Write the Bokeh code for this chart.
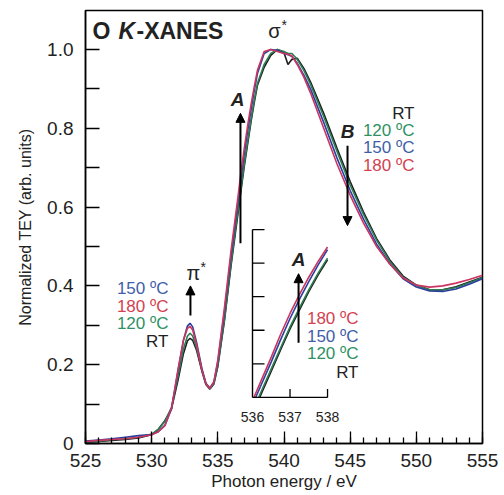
import numpy as np
from bokeh.plotting import figure
from bokeh.models import Range1d, FixedTicker, Label, Arrow, NormalHead
from bokeh.core.properties import value
from bokeh.embed import file_html
from bokeh.resources import INLINE

# ---------------- data ----------------
energy = [525, 526, 527, 528, 529, 530, 530.5, 531, 531.5, 532,
          532.4, 532.7, 532.9, 533.1, 533.4, 533.8, 534.1, 534.4, 534.7, 535,
          535.5, 536, 536.25, 536.5, 536.75, 537, 537.25, 537.5, 537.75, 538,
          538.5, 539, 539.5, 540, 540.3, 540.6, 541, 541.5, 542, 543,
          544, 545, 546, 547, 548, 549, 550, 551, 552, 553,
          554, 555]

tey_rt = [.003, .005, .008, .010, .014, .022, .036, .058, .088, .162,
          .228, .260, .267, .262, .236, .183, .150, .138, .151, .196,
          .312, .452, .515, .578, .642, .704, .760, .815, .865, .910,
          .955, .985, 1.000, .992, .962, .975, .978, .952, .918, .838,
          .750, .665, .588, .520, .466, .425, .402, .390, .390, .398,
          .410, .422]
tey_120 = [.004, .006, .010, .012, .016, .024, .036, .056, .092, .172,
           .240, .272, .280, .273, .242, .186, .151, .139, .152, .198,
           .315, .458, .522, .585, .648, .710, .766, .820, .870, .915,
           .962, .990, 1.000, .995, .990, .990, .975, .947, .912, .830,
           .742, .656, .582, .516, .462, .422, .401, .390, .390, .396,
           .408, .421]
tey_150 = [.006, .009, .012, .016, .020, .023, .030, .046, .088, .186,
           .262, .298, .305, .296, .256, .190, .153, .141, .156, .208,
           .335, .478, .542, .606, .672, .735, .792, .845, .895, .940,
           .990, 1.000, .998, .990, .987, .982, .965, .935, .900, .815,
           .725, .642, .570, .506, .456, .418, .397, .387, .386, .392,
           .404, .418]
tey_180 = [.005, .008, .010, .012, .016, .022, .030, .045, .090, .190,
           .262, .292, .297, .288, .250, .186, .152, .140, .156, .212,
           .345, .490, .555, .620, .688, .750, .806, .858, .905, .948,
           .995, 1.000, .995, .990, .988, .984, .962, .930, .890, .800,
           .710, .630, .560, .500, .455, .420, .402, .397, .400, .407,
           .416, .427]

series_labels = ["RT", "120 \u00baC", "150 \u00baC", "180 \u00baC"]
line_colors = ["#1e1e1e", "#2e7d52", "#2c3f9e", "#cc3560"]
text_colors = ["#222222", "#2f9163", "#3f5ea8", "#d4414f"]

x_major = [525, 530, 535, 540, 545, 550, 555]
x_minor = list(range(525, 556))
y_major = [0, 0.2, 0.4, 0.6, 0.8, 1.0]
y_minor = [0.1, 0.3, 0.5, 0.7, 0.9]
y_labels = ["0", "0.2", "0.4", "0.6", "0.8", "1.0"]

inset_x_ticks = [536, 537, 538]
inset_y_ticks = [0.6, 0.7, 0.8, 0.9, 1.0]

FONT = "Liberation Sans"

# ---------------- figure ----------------
p = figure(frame_width=397, frame_height=433,
           min_border_left=85, min_border_top=10, min_border_right=20, min_border_bottom=42,
           x_range=Range1d(525, 555), y_range=Range1d(0, 1.099),
           output_backend="svg", toolbar_location=None)
p.background_fill_color = "white"
p.border_fill_color = "white"
p.xgrid.visible = False
p.ygrid.visible = False
p.outline_line_color = "black"
p.outline_line_width = 1.5

p.xaxis.ticker = FixedTicker(ticks=x_major, minor_ticks=x_minor)
p.yaxis.ticker = FixedTicker(ticks=y_major, minor_ticks=y_minor)
p.yaxis.major_label_overrides = {v: s for v, s in zip(y_major, y_labels)}

for ax in (p.xaxis[0], p.yaxis[0]):
    ax.axis_line_color = "black"
    ax.axis_line_width = 1.5
    ax.major_tick_line_color = "black"
    ax.minor_tick_line_color = "black"
    ax.major_tick_line_width = 1.3
    ax.minor_tick_line_width = 1.3
    ax.major_tick_out = 0
    ax.minor_tick_out = 0
    ax.major_label_text_font = FONT
    ax.major_label_text_font_size = "19px"
    ax.major_label_text_color = "#222222"
    ax.axis_label_text_font = FONT
    ax.axis_label_text_font_style = "normal"
    ax.axis_label_text_color = "#222222"

p.xaxis.major_tick_in = 12
p.xaxis.minor_tick_in = 6
p.yaxis.major_tick_in = 14
p.yaxis.minor_tick_in = 14
p.xaxis.major_label_standoff = 10
p.yaxis.major_label_standoff = 12
p.xaxis.axis_label = "Photon energy / eV"
p.yaxis.axis_label = "Normalized TEY (arb. units)"
p.xaxis.axis_label_text_font_size = "17px"
p.yaxis.axis_label_text_font_size = "16px"
p.xaxis.axis_label_standoff = 2
p.yaxis.axis_label_standoff = 10

series = [tey_rt, tey_120, tey_150, tey_180]
for ys, c in zip(series, line_colors):
    p.line(energy, ys, line_color=c, line_width=1.6)

# ---------------- inset ----------------
inset = p.subplot(x_source=Range1d(536, 538), y_source=Range1d(0.5, 1.0),
                  x_target=Range1d(537.62, 543.29), y_target=Range1d(0.117, 0.543))
e_arr = np.array(energy)
mask = (e_arr >= 536) & (e_arr <= 538)
for ys, c in zip(series, line_colors):
    inset.line(e_arr[mask], np.array(ys)[mask], line_color=c, line_width=1.6)
# hide the part of the inset traces that falls below the inset's x axis
inset.quad(left=535.9, right=538.1, bottom=0.40, top=0.5, fill_color="white", line_color=None)
# inset axes
inset.line([536, 536], [0.5, 1.0], line_color="black", line_width=1.4)
inset.line([536, 538], [0.5, 0.5], line_color="black", line_width=1.4)
inset.segment(x0=[536] * len(inset_y_ticks), y0=inset_y_ticks,
              x1=[536.32] * len(inset_y_ticks), y1=inset_y_ticks,
              line_color="black", line_width=1.3)
inset.segment(x0=inset_x_ticks[1:], y0=[0.5] * 2, x1=inset_x_ticks[1:], y1=[0.525] * 2,
              line_color="black", line_width=1.3)
inset.text(x=inset_x_ticks, y=[0.5] * 3, text=[str(t) for t in inset_x_ticks],
           y_offset=20, text_align="center", text_baseline="middle",
           text_font=value(FONT), text_font_size="14px", text_color="#222222")

# ---------------- annotations ----------------
def lab(x, y, t, size="17px", color="#222222", align="left", style="normal", xo=0, yo=0):
    p.add_layout(Label(x=x, y=y, text=t, text_font=FONT, text_font_size=size,
                       text_color=color, text_align=align, text_baseline="middle",
                       text_font_style=style, x_offset=xo, y_offset=yo))

# title
lab(525.53, 1.048, "O", size="23px", style="bold")
lab(525.53, 1.048, "K", size="23px", style="bold italic", xo=26)
lab(525.53, 1.048, "-XANES", size="23px", style="bold", xo=44)

# sigma* and pi*
lab(539.28, 1.046, "\u03c3", size="20px", align="center")
lab(539.28, 1.046, "*", size="14px", xo=7, yo=6)
lab(533.16, 0.433, "\u03c0", size="20px", align="center")
lab(533.16, 0.433, "*", size="14px", xo=7, yo=6)

# arrows
def arrow(x, y0, y1):
    p.add_layout(Arrow(x_start=x, y_start=y0, x_end=x, y_end=y1, line_width=2,
                       line_color="black",
                       end=NormalHead(size=9, fill_color="black", line_color="black", line_width=1)))

arrow(532.93, 0.325, 0.40)
arrow(536.71, 0.508, 0.838)
arrow(544.80, 0.756, 0.553)
arrow(541.10, 0.256, 0.431)

lab(536.49, 0.873, "A", size="19px", style="bold italic", align="center")
lab(544.80, 0.792, "B", size="19px", style="bold italic", align="center")
lab(541.10, 0.466, "A", size="19px", style="bold italic", align="center")

# legend near sigma* (RT, 120, 150, 180)
for (i, yy) in zip([0, 1, 2, 3], [0.838, 0.794, 0.751, 0.706]):
    lab(549.86, yy, series_labels[i], color=text_colors[i], align="right")
# legend near pi* (150, 180, 120, RT)
for (i, yy) in zip([2, 3, 1, 0], [0.393, 0.348, 0.305, 0.259]):
    lab(531.27, yy, series_labels[i], color=text_colors[i], align="right")
# legend in inset (180, 150, 120, RT)
for (i, yy) in zip([3, 2, 1, 0], [0.317, 0.272, 0.228, 0.180]):
    lab(545.63, yy, series_labels[i], color=text_colors[i], align="right")

open("out.html", "w").write(file_html(p, INLINE))
